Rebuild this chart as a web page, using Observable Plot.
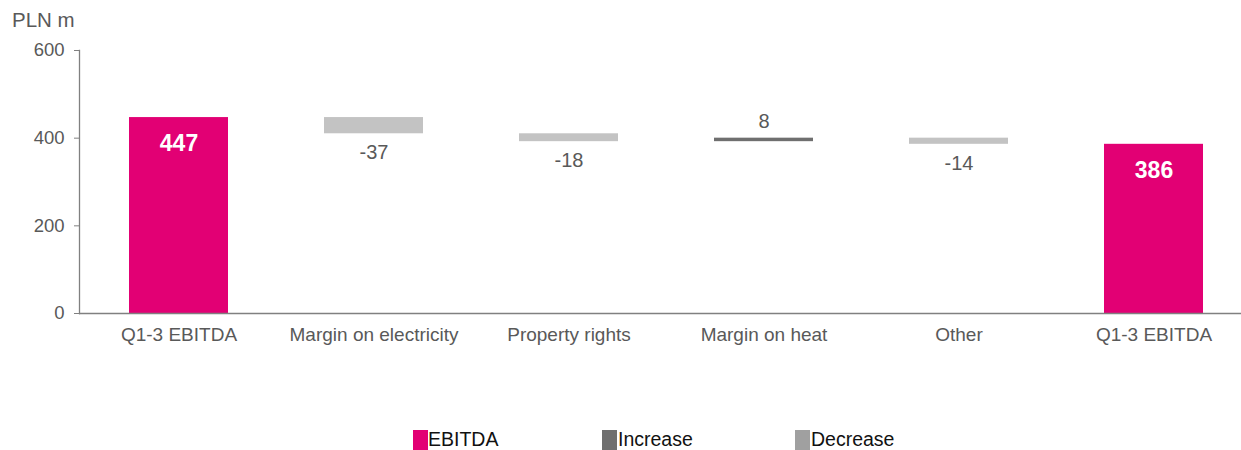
<!DOCTYPE html>
<html>
<head>
<meta charset="utf-8">
<script src="https://cdn.jsdelivr.net/npm/d3@7"></script>
<script src="https://cdn.jsdelivr.net/npm/@observablehq/plot@0.6"></script>
<style>
  body { margin: 0; background: #fff; font-family: "Liberation Sans", Arial, sans-serif; }
  #wrap { position: relative; width: 1241px; height: 450px; overflow: hidden; }
  #title { position: absolute; left: 12px; top: 8px; font-size: 20.5px; color: #595959; line-height: 24px; }
  #chart { position: absolute; left: 0; top: 40px; }
  .sw { position: absolute; top: 430px; width: 15px; height: 20px; }
  .lt { position: absolute; top: 429px; font-size: 19.5px; line-height: 20px; height: 20px; color: #111; }
</style>
</head>
<body>
<div id="wrap">
  <div id="title">PLN m</div>
  <div id="chart"></div>
  <div id="legend"></div>
</div>
<script>
const categories = ["Q1-3 EBITDA", "Margin on electricity", "Property rights", "Margin on heat", "Other", "Q1-3 EBITDA"];
const values = [447, -37, -18, 8, -14, 386];
const types = ["EBITDA", "Decrease", "Decrease", "Increase", "Decrease", "EBITDA"];
const yTicks = [0, 200, 400, 600];
const legendItems = ["EBITDA", "Increase", "Decrease"];
const barColors = {EBITDA: "#E20074", Increase: "#6F6F6F", Decrease: "#C3C3C3"};
const legendColors = {EBITDA: "#E20074", Increase: "#6F6F6F", Decrease: "#A0A0A0"};

// waterfall table
let run = 0;
const rows = values.map((v, i) => {
  let y1, y2;
  if (types[i] === "EBITDA") { y1 = 0; y2 = v; run = v; }
  else { y1 = run; y2 = run + v; run = y2; }
  return {i, cat: categories[i], v, type: types[i], lo: Math.min(y1, y2), hi: Math.max(y1, y2)};
});

const step = 195.4;
const x0 = 80.5;
const plot = Plot.plot({
  width: 1241,
  height: 330,
  marginLeft: 79,
  marginRight: 0,
  marginTop: 10,
  marginBottom: 57,
  style: {fontFamily: "Liberation Sans, Arial, sans-serif", color: "#595959", background: "#fff", overflow: "visible"},
  x: {type: "band", domain: d3.range(categories.length), range: [x0, x0 + step * categories.length], paddingInner: 0.49, paddingOuter: 0.245, axis: null},
  y: {domain: [0, 600], axis: null},
  marks: [
    Plot.barY(rows, {x: "i", y1: "lo", y2: "hi", fill: d => barColors[d.type]}),
    Plot.frame({anchor: "left", stroke: "#808080", strokeWidth: 1.3}),
    Plot.ruleY([0], {stroke: "#808080", strokeWidth: 1.3}),
    Plot.axisY({ticks: yTicks, tickSize: 5, tickPadding: 10, tickFormat: d => String(d), fontSize: 18.5, stroke: "#808080", color: "#595959", label: null}),
    Plot.axisX({tickSize: 0, tickPadding: 14, tickFormat: i => categories[i], fontSize: 19, color: "#595959", label: null}),
    Plot.text(rows.filter(d => d.type === "EBITDA"), {x: "i", y: "hi", text: d => String(d.v), dy: 26, fill: "#fff", fontWeight: "bold", fontSize: 23}),
    Plot.text(rows.filter(d => d.type === "Decrease"), {x: "i", y: "lo", text: d => String(d.v), dy: 19, fill: "#595959", fontSize: 20}),
    Plot.text(rows.filter(d => d.type === "Increase"), {x: "i", y: "hi", text: d => String(d.v), dy: -17, fill: "#595959", fontSize: 20})
  ]
});
document.getElementById("chart").appendChild(plot);

const lgX = [413, 602, 795];
const legend = document.getElementById("legend");
legendItems.forEach((name, k) => {
  const sw = document.createElement("div");
  sw.className = "sw";
  sw.style.left = lgX[k] + "px";
  sw.style.background = legendColors[name];
  legend.appendChild(sw);
  const t = document.createElement("div");
  t.className = "lt";
  t.style.left = (lgX[k] + (k === 0 ? 15 : 16)) + "px";
  t.textContent = name;
  legend.appendChild(t);
});
</script>
</body>
</html>
